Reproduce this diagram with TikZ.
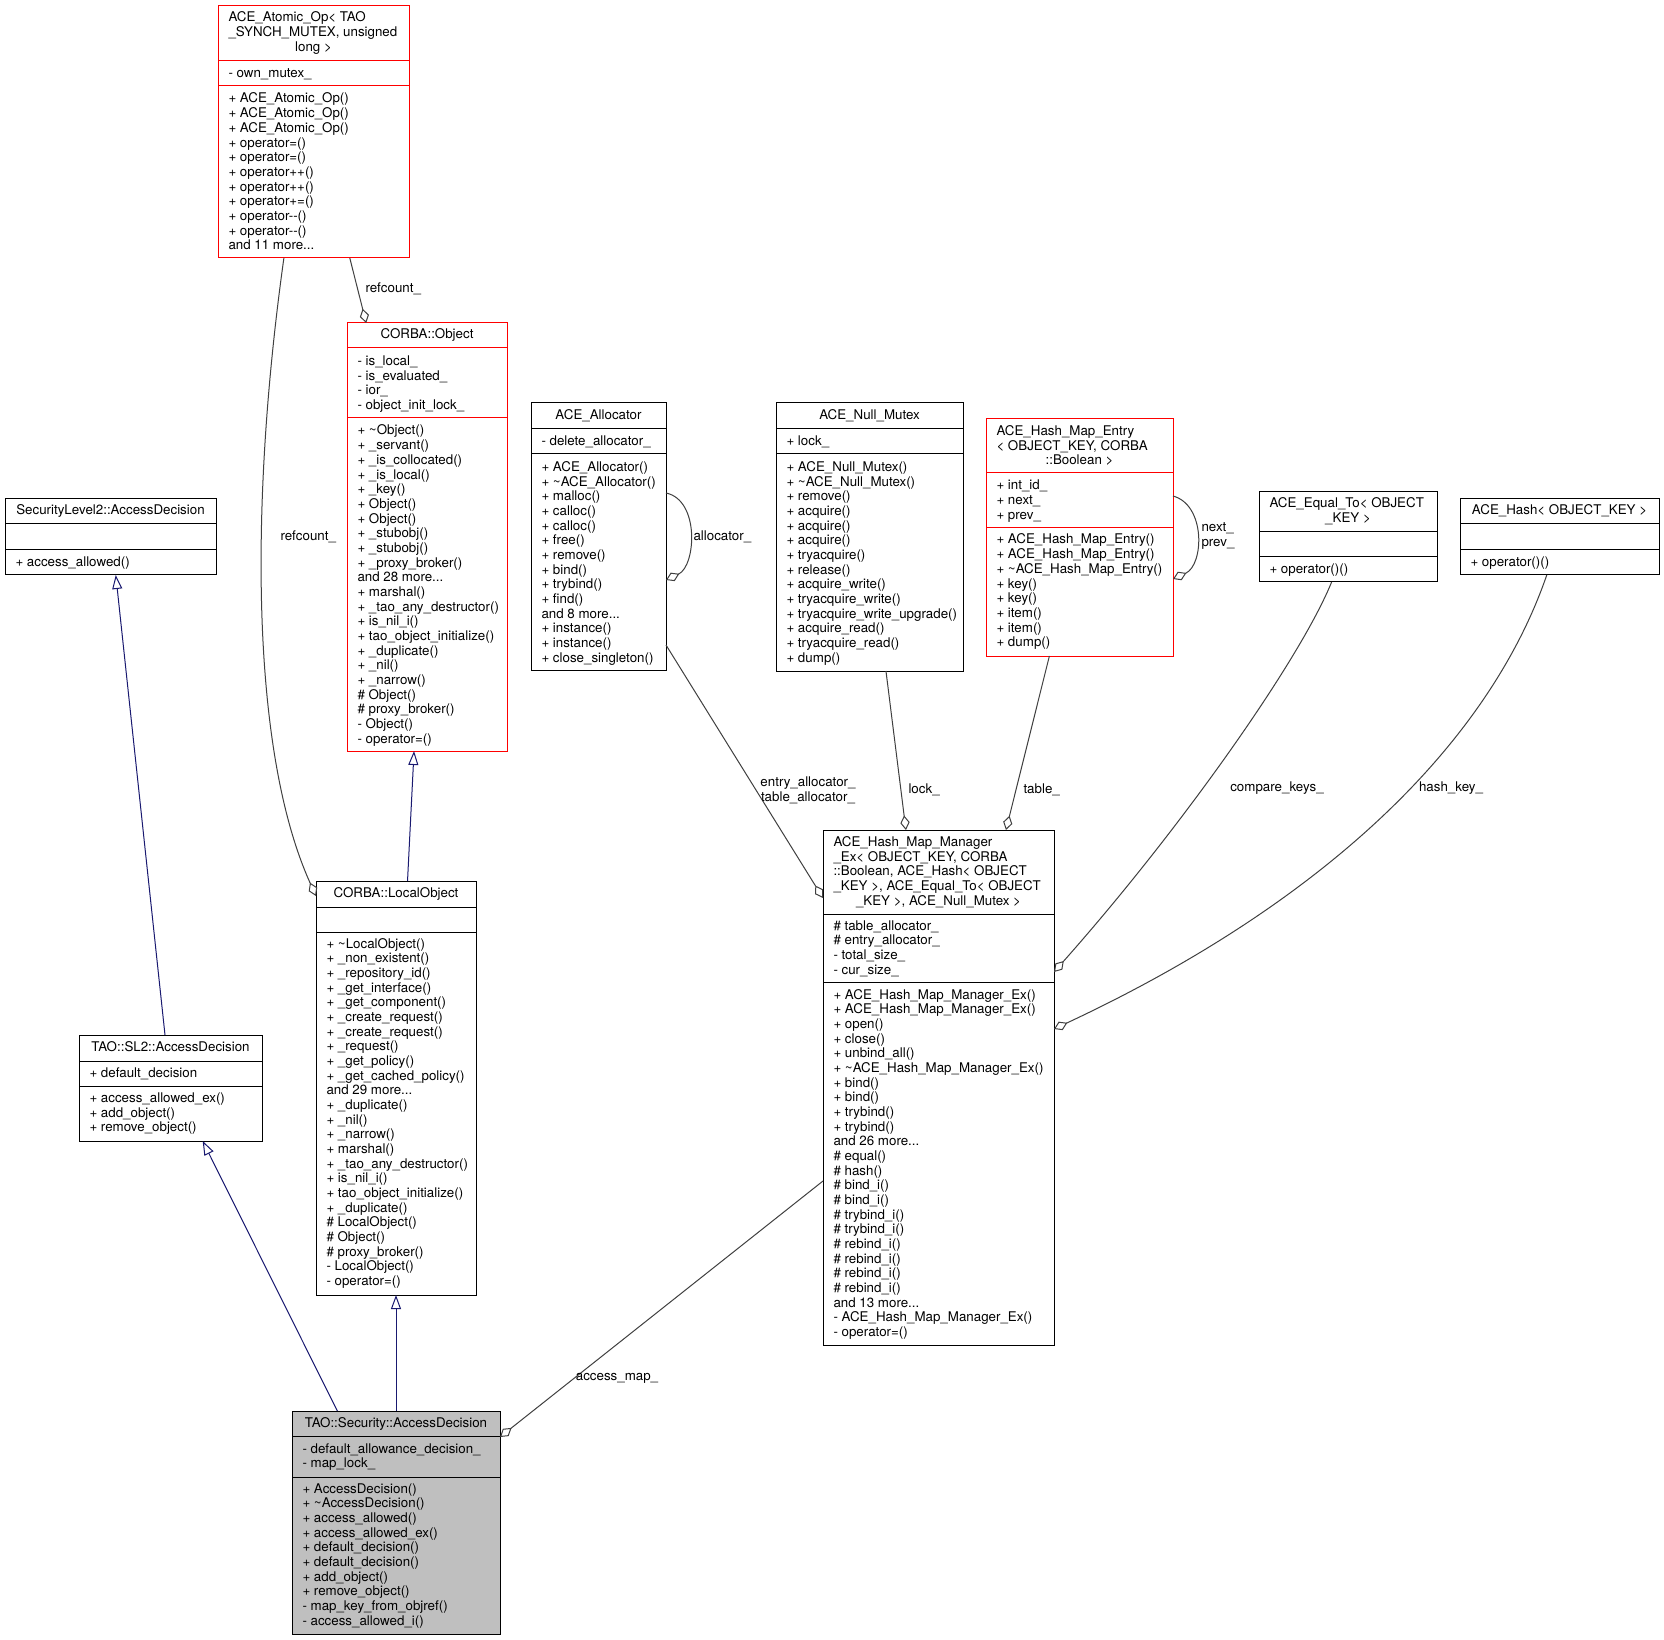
\documentclass[tikz,border=0pt]{standalone}
\usepackage{fontspec}
\setmainfont{TeX Gyre Heros}
\usetikzlibrary{arrows.meta,calc,fit,positioning}
\definecolor{edgegray}{HTML}{404040}
\definecolor{inhblue}{HTML}{191970}
\definecolor{curfill}{HTML}{BFBFBF}

\begin{document}
\begin{tikzpicture}
[x=0.75pt, y=-0.75pt, line width=0.75pt,
cls/.style={draw=black, inner sep=0pt, outer sep=0pt},
redcls/.style={cls, draw=red},
mem/.style={anchor=base west, inner sep=0pt},
hdr/.style={anchor=base, inner sep=0pt},
lbl/.style={inner sep=0pt, font=\fontsize{10}{11}\selectfont},
inherit/.style={draw=inhblue, -{Triangle[open, length=10.5pt, width=7.5pt]}},
uses/.style={draw=edgegray, -{Diamond[open, length=11pt, width=7pt]}}]

\useasboundingbox (0,0) rectangle (1664,1640);
\fill[white] (0,0) rectangle (1664,1640);

% ACE_Atomic_Op
\node[redcls, fit={(218,6) (409,258)}] (atomic) {};
\node[mem] (atomic-h0) at (228,22) {ACE\_Atomic\_Op< TAO};
\node[mem] (atomic-h1) at (228,36.7) {\_SYNCH\_MUTEX, unsigned};
\node[hdr] (atomic-h2) at (313.5,51.3) {long >};
\node[mem] (atomic-a0) at (228,78) {- own\_mutex\_};
\foreach \m [count=\row from 0] in {+ ACE\_Atomic\_Op(), + ACE\_Atomic\_Op(), + ACE\_Atomic\_Op(),
  + operator=(), + operator=(), + operator++(), + operator++(), + operator+=(),
  + operator-{}-(), + operator-{}-(), and 11 more.{}.{}.}
  \node[mem] (atomic-m\row) at (228,{103+14.67*\row}) {\m};

% CORBA::Object
\node[redcls, fit={(347,323) (507,751)}] (object) {};
\node[hdr] (object-h0) at (427,339) {CORBA::Object};
\foreach \m [count=\row from 0] in {- is\_local\_, - is\_evaluated\_, - ior\_, - object\_init\_lock\_}
  \node[mem] (object-a\row) at (357,{365.5+14.67*\row}) {\m};
\foreach \m [count=\row from 0] in {+ \textasciitilde{}Object(), + \_servant(), + \_is\_collocated(),
  + \_is\_local(), + \_key(), + Object(), + Object(), + \_stubobj(), + \_stubobj(),
  + \_proxy\_broker(), and 28 more.{}.{}., + marshal(), + \_tao\_any\_destructor(),
  + is\_nil\_i(), + tao\_object\_initialize(), + \_duplicate(), + \_nil(), + \_narrow(),
  \# Object(), \# proxy\_broker(), - Object(), - operator=()}
  \node[mem] (object-m\row) at (357,{435+14.67*\row}) {\m};

% SecurityLevel2::AccessDecision
\node[cls, fit={(5,499) (216,575)}] (sec2) {};
\node[hdr] (sec2-h0) at (110.5,515) {SecurityLevel2::AccessDecision};
\node[mem] (sec2-m0) at (15,566.5) {+ access\_allowed()};

% TAO::SL2::AccessDecision
\node[cls, fit={(79,1035) (262,1141)}] (sl2) {};
\node[hdr] (sl2-h0) at (170.5,1051) {TAO::SL2::AccessDecision};
\node[mem] (sl2-a0) at (89,1077) {+ default\_decision};
\foreach \m [count=\row from 0] in {+ access\_allowed\_ex(), + add\_object(), + remove\_object()}
  \node[mem] (sl2-m\row) at (89,{1102.5+14.67*\row}) {\m};

% CORBA::LocalObject
\node[cls, fit={(316,881) (476,1295)}] (local) {};
\node[hdr] (local-h0) at (396,897) {CORBA::LocalObject};
\foreach \m [count=\row from 0] in {+ \textasciitilde{}LocalObject(), + \_non\_existent(),
  + \_repository\_id(), + \_get\_interface(), + \_get\_component(), + \_create\_request(),
  + \_create\_request(), + \_request(), + \_get\_policy(), + \_get\_cached\_policy(),
  and 29 more.{}.{}., + \_duplicate(), + \_nil(), + \_narrow(), + marshal(),
  + \_tao\_any\_destructor(), + is\_nil\_i(), + tao\_object\_initialize(), + \_duplicate(),
  \# LocalObject(), \# Object(), \# proxy\_broker(), - LocalObject(), - operator=()}
  \node[mem] (local-m\row) at (326,{948+14.67*\row}) {\m};

% TAO::Security::AccessDecision
\node[cls, fill=curfill, fit={(292,1411) (500,1634)}] (tsec) {};
\node[hdr] (tsec-h0) at (396,1427) {TAO::Security::AccessDecision};
\node[mem] (tsec-a0) at (302,1453) {- default\_allowance\_decision\_};
\node[mem] (tsec-a1) at (302,1467.7) {- map\_lock\_};
\foreach \m [count=\row from 0] in {+ AccessDecision(), + \textasciitilde{}AccessDecision(),
  + access\_allowed(), + access\_allowed\_ex(), + default\_decision(), + default\_decision(),
  + add\_object(), + remove\_object(), - map\_key\_from\_objref(), - access\_allowed\_i()}
  \node[mem] (tsec-m\row) at (302,{1493+14.67*\row}) {\m};

% ACE_Allocator
\node[cls, fit={(531,403) (666,670)}] (alloc) {};
\node[hdr] (alloc-h0) at (598.5,420) {ACE\_Allocator};
\node[mem] (alloc-a0) at (541,445.5) {- delete\_allocator\_};
\foreach \m [count=\row from 0] in {+ ACE\_Allocator(), + \textasciitilde{}ACE\_Allocator(),
  + malloc(), + calloc(), + calloc(), + free(), + remove(), + bind(), + trybind(), + find(),
  and 8 more.{}.{}., + instance(), + instance(), + close\_singleton()}
  \node[mem] (alloc-m\row) at (541,{471.5+14.67*\row}) {\m};

% ACE_Null_Mutex
\node[cls, fit={(776,403) (963,671)}] (mutex) {};
\node[hdr] (mutex-h0) at (869.5,420) {ACE\_Null\_Mutex};
\node[mem] (mutex-a0) at (786,445.5) {+ lock\_};
\foreach \m [count=\row from 0] in {+ ACE\_Null\_Mutex(), + \textasciitilde{}ACE\_Null\_Mutex(),
  + remove(), + acquire(), + acquire(), + acquire(), + tryacquire(), + release(),
  + acquire\_write(), + tryacquire\_write(), + tryacquire\_write\_upgrade(),
  + acquire\_read(), + tryacquire\_read(), + dump()}
  \node[mem] (mutex-m\row) at (786,{471.5+14.67*\row}) {\m};

% ACE_Hash_Map_Entry
\node[redcls, fit={(986,419) (1173,656)}] (entry) {};
\node[mem] (entry-h0) at (996,435.5) {ACE\_Hash\_Map\_Entry};
\node[mem] (entry-h1) at (996,450.2) {< OBJECT\_KEY, CORBA};
\node[hdr] (entry-h2) at (1079.5,464.8) {::Boolean >};
\foreach \m [count=\row from 0] in {+ int\_id\_, + next\_, + prev\_}
  \node[mem] (entry-a\row) at (996,{490+14.67*\row}) {\m};
\foreach \m [count=\row from 0] in {+ ACE\_Hash\_Map\_Entry(), + ACE\_Hash\_Map\_Entry(),
  + \textasciitilde{}ACE\_Hash\_Map\_Entry(), + key(), + key(), + item(), + item(), + dump()}
  \node[mem] (entry-m\row) at (996,{544+14.67*\row}) {\m};

% ACE_Equal_To
\node[cls, fit={(1259,492) (1437,582)}] (equal) {};
\node[mem] (equal-h0) at (1269,508) {ACE\_Equal\_To< OBJECT};
\node[hdr] (equal-h1) at (1348,522.7) {\_KEY >};
\node[mem] (equal-m0) at (1269,574) {+ operator()()};

% ACE_Hash
\node[cls, fit={(1460,499) (1659,575)}] (hash) {};
\node[hdr] (hash-h0) at (1559.5,515) {ACE\_Hash< OBJECT\_KEY >};
\node[mem] (hash-m0) at (1470,566.5) {+ operator()()};

% ACE_Hash_Map_Manager_Ex
\node[cls, fit={(823,830) (1054,1345)}] (manager) {};
\foreach \m [count=\row from 0] in {ACE\_Hash\_Map\_Manager, {\_Ex< OBJECT\_KEY, CORBA},
  {::Boolean, ACE\_Hash< OBJECT}, {\_KEY >, ACE\_Equal\_To< OBJECT}}
  \node[mem] (manager-h\row) at (833,{846.5+14.67*\row}) {\m};
\node[hdr] (manager-h4) at (938.5,905.2) {\_KEY >, ACE\_Null\_Mutex >};
\foreach \m [count=\row from 0] in {\# table\_allocator\_, \# entry\_allocator\_, - total\_size\_, - cur\_size\_}
  \node[mem] (manager-a\row) at (833,{930+14.67*\row}) {\m};
\foreach \m [count=\row from 0] in {+ ACE\_Hash\_Map\_Manager\_Ex(), + ACE\_Hash\_Map\_Manager\_Ex(),
  + open(), + close(), + unbind\_all(), + \textasciitilde{}ACE\_Hash\_Map\_Manager\_Ex(), + bind(),
  + bind(), + trybind(), + trybind(), and 26 more.{}.{}., \# equal(), \# hash(), \# bind\_i(),
  \# bind\_i(), \# trybind\_i(), \# trybind\_i(), \# rebind\_i(), \# rebind\_i(), \# rebind\_i(),
  \# rebind\_i(), and 13 more.{}.{}., - ACE\_Hash\_Map\_Manager\_Ex(), - operator=()}
  \node[mem] (manager-m\row) at (833,{999+14.67*\row}) {\m};

% compartment lines
\foreach \n/\a/\b/\c in {atomic/61/86/red, object/348/418/red, sec2/524/550/black,
  sl2/1061/1086/black, local/907/932/black, tsec/1436/1477/black, alloc/429/454/black,
  mutex/429/454/black, entry/473/528/red, equal/532/557/black, hash/524/550/black,
  manager/914/982/black}
  \draw[\c] (\n.west |- 0,\a) -- (\n.east |- 0,\a) (\n.west |- 0,\b) -- (\n.east |- 0,\b);

% inheritance
\draw[inherit] ($(local.north west)!.572!(local.north east)$) -- ($(object.south west)!.419!(object.south east)$);
\draw[inherit] ($(sl2.north west)!.47!(sl2.north east)$) -- ($(sec2.south west)!.525!(sec2.south east)$);
\draw[inherit] ($(tsec.north west)!.218!(tsec.north east)$) -- ($(sl2.south west)!.676!(sl2.south east)$);
\draw[inherit] (tsec.north) -- (local.south);

% usage
\draw[uses] ($(atomic.south west)!.69!(atomic.south east)$) -- ($(object.north west)!.12!(object.north east)$);
\node[lbl, anchor=west] (refcount1) at (365,289) {refcount\_};
\draw[uses] ($(atomic.south west)!.345!(atomic.south east)$) .. controls (250,500) and (250,750) .. ($(local.north west)+(0,15)$);
\node[lbl, anchor=west] (refcount2) at (280,537) {refcount\_};
\draw[uses] ($(alloc.north east)+(0,90)$) .. controls (700,500) and (696,566) .. ($(alloc.north east)+(0,177)$);
\node[lbl, anchor=west] (allocself) at (693,537) {allocator\_};
\draw[uses] ($(alloc.north east)+(0,242)$) -- ($(manager.north west)+(0,68)$);
\node[lbl, align=center] (allocuse) at (808,790) {entry\_allocator\_\\table\_allocator\_};
\draw[uses] ($(mutex.south west)!.588!(mutex.south east)$) -- ($(manager.north west)!.359!(manager.north east)$);
\node[lbl, anchor=west] (lockuse) at (908,790) {lock\_};
\draw[uses] ($(entry.south west)!.339!(entry.south east)$) -- ($(manager.north west)!.792!(manager.north east)$);
\node[lbl, anchor=west] (tableuse) at (1023,790) {table\_};
\draw[uses] ($(entry.north east)+(0,77)$) .. controls (1206,505) and (1204,565) .. ($(entry.north east)+(0,160)$);
\node[lbl, anchor=west, align=left] (entryself) at (1201,536) {next\_\\prev\_};
\draw[uses] ($(equal.south west)!.408!(equal.south east)$) .. controls (1300,660) and (1180,830) .. ($(manager.north east)+(0,142)$);
\node[lbl] (compareuse) at (1277,788) {compare\_keys\_};
\draw[uses] ($(hash.south west)!.436!(hash.south east)$) .. controls (1490,740) and (1330,900) .. ($(manager.north east)+(0,199)$);
\node[lbl] (hashuse) at (1451,788) {hash\_key\_};
\draw[uses] ($(manager.north west)+(0,351)$) -- ($(tsec.north east)+(0,26)$);
\node[lbl] (mapuse) at (617,1378) {access\_map\_};
\end{tikzpicture}
\end{document}
